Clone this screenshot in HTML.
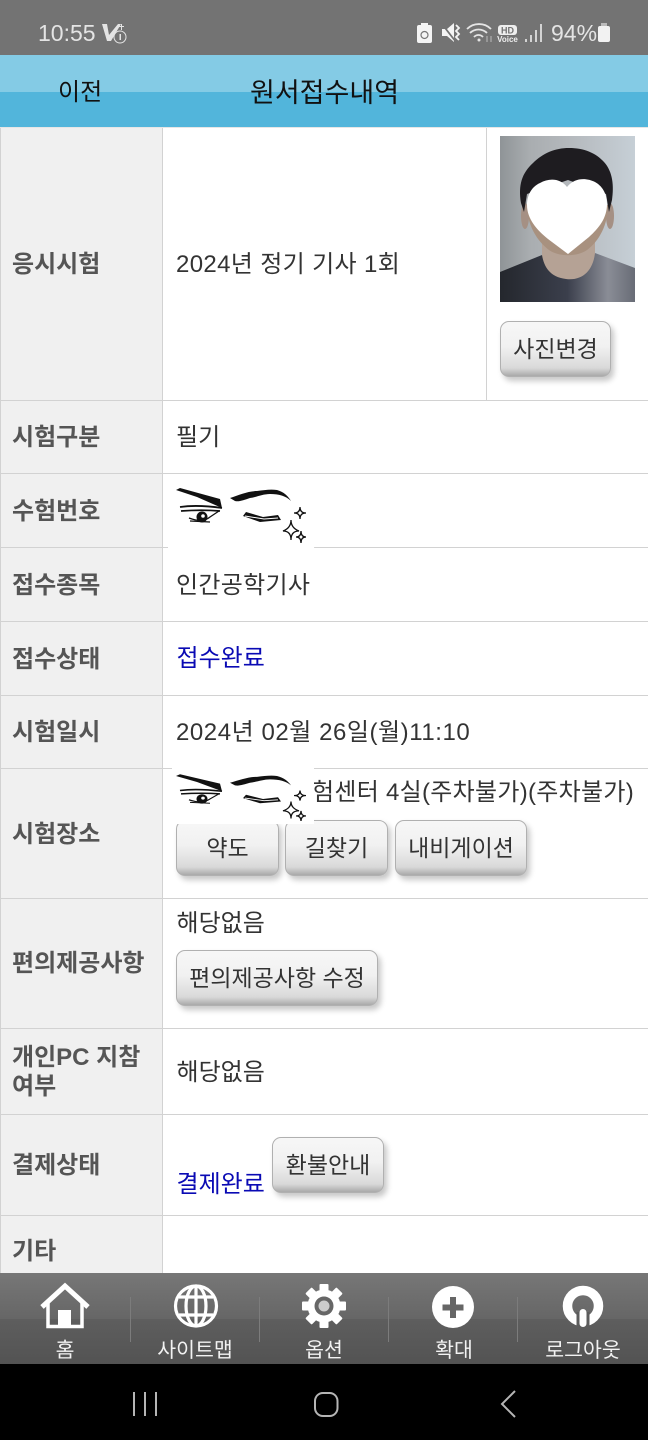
<!DOCTYPE html>
<html lang="ko"><head><meta charset="utf-8"><title>원서접수내역</title>
<style>
html,body{margin:0;padding:0;background:#fff}
#p{position:relative;width:648px;height:1440px;overflow:hidden;background:#fff;font-family:"Liberation Sans","Noto Sans CJK KR",sans-serif;font-size:24px;color:#333}
.a{position:absolute}
.t{position:absolute;line-height:30px;white-space:nowrap}
.l{position:absolute;left:12px;line-height:29px;font-weight:700;color:#555;white-space:nowrap}
.h{position:absolute;left:0;width:648px;height:1px;background:#d2d2d2}
.blue{color:#0a0ab4}
.b{position:absolute;box-sizing:border-box;height:56px;border:1px solid #b0b0b0;border-radius:9px;background:linear-gradient(#f7f7f7 0,#f1f1f1 45%,#d9d9d9 85%,#a9a9a9 100%);box-shadow:3px 4px 6px rgba(0,0,0,.22);text-align:center;font-size:23px;line-height:54px;color:#333;white-space:nowrap}
.f{position:absolute;top:1337px;width:130px;text-align:center;font-size:20.5px;line-height:28px;color:#f2f2f2;white-space:nowrap}
.s{position:absolute;top:1297px;width:1px;height:45px;background:#7c7c7c}
</style></head><body><div id="p">
<div class="a" style="left:0;top:0;width:648px;height:55px;background:#737373"></div>
<div class="t" style="left:38px;top:18px;color:#e4e4e4;font-size:23px">10:55</div>
<svg class="a" style="left:100px;top:20px" width="30" height="26" viewBox="0 0 30 26"><path d="M2 4h5l2 11 9-11h3l-10 17H7z" fill="#e4e4e4"/><circle cx="20" cy="17" r="6" fill="none" stroke="#e4e4e4" stroke-width="1"/><path d="M19.500 14h1.500v6h-1.500zM21 4h1v6h-1zM19 6h5v1h-5z" fill="#e4e4e4"/></svg>
<svg class="a" style="left:416px;top:20px" width="130" height="26" viewBox="0 0 130 26">
<rect x="1" y="5" width="15" height="18" rx="2" fill="#f4f4f4"/><rect x="5" y="3" width="7" height="3" fill="#f4f4f4"/><circle cx="8.500" cy="15" r="3.500" fill="none" stroke="#777" stroke-width="1.200"/>
<path d="M26 9h5l7-6v19l-7-6h-5z" fill="#f4f4f4"/><path d="M26 4l14 18" stroke="#737373" stroke-width="1.800"/><path d="M40 5l3 3-3 3 3 3-3 3 3 3" fill="none" stroke="#f4f4f4" stroke-width="1.800"/>
<path d="M51 9a17 17 0 0 1 24 0M54 13a12 12 0 0 1 17 0M58 17a6 6 0 0 1 9 0" fill="none" stroke="#e4e4e4" stroke-width="1.800"/><circle cx="63" cy="20" r="1.500" fill="#e4e4e4"/><path d="M71 16v6M75 22v-6" stroke="#bbb" stroke-width="1"/>
<rect x="82" y="5" width="19" height="10" rx="3" fill="#eee"/>
<text x="91.500" y="13.500" font-size="9" font-weight="700" text-anchor="middle" fill="#737373" font-family="Liberation Sans">HD</text>
<text x="91.500" y="22" font-size="8" font-weight="700" text-anchor="middle" fill="#eee" font-family="Liberation Sans">Voice</text>
<path d="M110 22v-3M115 22v-7M120 22v-12M125 22v-18" stroke="#e4e4e4" stroke-width="1.700"/>
</svg>
<div class="t" style="left:551px;top:18px;color:#e4e4e4;font-size:23px">94%</div>
<div class="a" style="left:598px;top:26px;width:12px;height:16px;background:#f2f2f2;border-radius:2px"></div>
<div class="a" style="left:601px;top:23px;width:6px;height:3px;background:#bbb"></div>

<div class="a" style="left:0;top:55px;width:648px;height:37px;background:#84cbe5"></div>
<div class="a" style="left:0;top:92px;width:648px;height:35px;background:#52b5db"></div>
<div class="t" style="left:58px;top:78px;color:#111">이전</div>
<div class="t" style="left:250px;top:78px;color:#111;font-size:27px">원서접수내역</div>

<div class="a" style="left:0;top:127px;width:162px;height:1146px;background:#f0f0f0"></div>
<div class="a" style="left:0;top:127px;width:1px;height:1146px;background:#d2d2d2"></div>
<div class="a" style="left:162px;top:127px;width:1px;height:1146px;background:#d2d2d2"></div>
<div class="a" style="left:486px;top:127px;width:1px;height:273px;background:#d2d2d2"></div>
<div class="h" style="top:127px;background:#e6e6e6"></div>
<div class="h" style="top:400px"></div><div class="h" style="top:473px"></div><div class="h" style="top:547px"></div><div class="h" style="top:621px"></div><div class="h" style="top:695px"></div><div class="h" style="top:768px"></div><div class="h" style="top:898px"></div><div class="h" style="top:1028px"></div><div class="h" style="top:1114px"></div><div class="h" style="top:1215px"></div>

<div class="l" style="top:250px">응시시험</div>
<div class="l" style="top:423px">시험구분</div>
<div class="l" style="top:497px">수험번호</div>
<div class="l" style="top:571px">접수종목</div>
<div class="l" style="top:645px">접수상태</div>
<div class="l" style="top:718px">시험일시</div>
<div class="l" style="top:820px">시험장소</div>
<div class="l" style="top:949px">편의제공사항</div>
<div class="l" style="top:1043px">개인PC 지참<br>여부</div>
<div class="l" style="top:1151px">결제상태</div>
<div class="l" style="top:1237px">기타</div>

<div class="t" style="left:176px;top:250px;letter-spacing:.35px">2024년 정기 기사 1회</div>
<div class="t" style="left:176px;top:423px">필기</div>
<div class="t" style="left:176px;top:571px;letter-spacing:.3px">인간공학기사</div>
<div class="t blue" style="left:176.500px;top:644px">접수완료</div>
<div class="t" style="left:176px;top:718px;letter-spacing:.55px">2024년 02월 26일(월)11:10</div>
<div class="t" style="left:312px;top:778px;letter-spacing:.28px">험센터 4실(주차불가)(주차불가)</div>
<div class="t" style="left:176.500px;top:909px">해당없음</div>
<div class="t" style="left:176.500px;top:1058px">해당없음</div>
<div class="t blue" style="left:176.500px;top:1170px">결제완료</div>

<svg class="a" style="left:500px;top:136px" width="135" height="166" viewBox="500 136 135 166">
<defs><linearGradient id="bg" x1="0" x2="1" y1="0" y2="0"><stop offset="0" stop-color="#8f9497"/><stop offset=".22" stop-color="#a9adb0"/><stop offset=".5" stop-color="#b4b8bc"/><stop offset="1" stop-color="#c6cfd6"/></linearGradient>
<linearGradient id="sh" x1="0" x2="1" y1="0" y2="0"><stop offset="0" stop-color="#24272d"/><stop offset=".5" stop-color="#3b3f4c"/><stop offset=".8" stop-color="#8a8d96"/><stop offset="1" stop-color="#686c76"/></linearGradient></defs>
<rect x="500" y="136" width="135" height="166" fill="url(#bg)"/>
<ellipse cx="525" cy="216" rx="4" ry="13" fill="#a59084"/><ellipse cx="610" cy="216" rx="4" ry="13" fill="#a59084"/>
<rect x="542" y="235" width="53" height="45" fill="#b5a295"/>
<path d="M527 205c0 20 10 36 22 45 10 7 28 7 38 0 12-9 21-25 21-45z" fill="#a8917f"/>
<path d="M521 203c-3-18 1-30 12-40 10-10 22-15 36-15 15 0 27 5 35 14 9 10 10 24 8 38l-3 12-3-18-38-14-41 14-3 18z" fill="#1e1c20"/>
<path d="M500 272l42-17c2 12 8 22 24 24 16 2 27-8 29-26l40 15v34H500z" fill="url(#sh)"/>
<path d="M567 187c8-10 20-9 28-5 9 5 12 14 12 22 0 14-8 24-18 33l-21 17-20-15c-11-9-21-20-21-34 0-9 4-18 13-22 9-5 20-5 27 4z" fill="#fff"/>
</svg>
<div class="b" style="left:500px;top:321px;width:111px">사진변경</div>

<svg class="a" style="left:168px;top:486px" width="150" height="63" viewBox="0 0 150 63"><path d="M0 2H150L146 63H0z" fill="#fff"/>
<path d="M8 4l4-2 40 11 2 9-25-11zM62 12c9-3 18-7 27-7 7-1 14-2 20-1 7 2 11 6 14 11-5-5-12-7-21-7-7 0-13 3-20 4-6 2-11 4-15 3z" fill="#111"/>
<path d="M12 21c14-2 28-1 42 1M13 25c14-1 27-1 39 0" fill="none" stroke="#111" stroke-width="1.800"/><path d="M21 32c8 3 15 4 21-1l9-6" fill="none" stroke="#111" stroke-width="1.300"/><path d="M22 35l20 1" stroke="#111" stroke-width="1.200"/><circle cx="34" cy="31" r="5.500" fill="#111"/><circle cx="35" cy="30" r="1.800" fill="#fff"/>
<path d="M75 30l3-4 17 5 15-2 3 5-21 2z" fill="#111"/><path d="M77 30l19 3 14-1" fill="none" stroke="#fff" stroke-width="1"/>
<path d="M132 21q0 6 6 6q-6 0-6 6q0-6-6-6q6 0 6-6zM123 34q0 8 8 11q-8 0-8 9q0-9-8-9q8-3 8-11zM133 45q0 6 5 6q-5 0-5 6q0-6-5-6q5 0 5-6z" fill="#fff" stroke="#111" stroke-width="1.300"/></svg>

<div class="b" style="left:176px;top:820px;width:103px">약도</div>
<div class="b" style="left:285px;top:820px;width:103px">길찾기</div>
<div class="b" style="left:395px;top:820px;width:132px">내비게이션</div>
<div class="b" style="left:176px;top:950px;width:202px">편의제공사항 수정</div>
<div class="b" style="left:272px;top:1137px;width:112px">환불안내</div>

<svg class="a" style="left:172px;top:766px" width="142" height="58" viewBox="0 0 142 58"><rect width="142" height="58" fill="#fff"/>
<g transform="translate(-4 6.600) scale(1 .85)"><path d="M8 4l4-2 40 11 2 9-25-11zM62 12c9-3 18-7 27-7 7-1 14-2 20-1 7 2 11 6 14 11-5-5-12-7-21-7-7 0-13 3-20 4-6 2-11 4-15 3z" fill="#111"/>
<path d="M12 21c14-2 28-1 42 1M13 25c14-1 27-1 39 0" fill="none" stroke="#111" stroke-width="1.800"/><path d="M21 32c8 3 15 4 21-1l9-6" fill="none" stroke="#111" stroke-width="1.300"/><path d="M22 35l20 1" stroke="#111" stroke-width="1.200"/><circle cx="34" cy="31" r="5.500" fill="#111"/><circle cx="35" cy="30" r="1.800" fill="#fff"/>
<path d="M75 30l3-4 17 5 15-2 3 5-21 2z" fill="#111"/><path d="M77 30l19 3 14-1" fill="none" stroke="#fff" stroke-width="1"/>
<path d="M132 21q0 6 6 6q-6 0-6 6q0-6-6-6q6 0 6-6zM123 34q0 8 8 11q-8 0-8 9q0-9-8-9q8-3 8-11zM133 45q0 6 5 6q-5 0-5 6q0-6-5-6q5 0 5-6z" fill="#fff" stroke="#111" stroke-width="1.300"/></g></svg>

<div class="a" style="left:0;top:1273px;width:648px;height:46px;background:linear-gradient(#777,#666)"></div>
<div class="a" style="left:0;top:1319px;width:648px;height:45px;background:linear-gradient(#5e5e5e,#535353)"></div>
<div class="s" style="left:130px"></div><div class="s" style="left:259px"></div><div class="s" style="left:388px"></div><div class="s" style="left:517px"></div>
<svg class="a" style="left:0;top:1273px" width="648" height="60" viewBox="0 1273 648 60" fill="#fff">
<path d="M42 1307l23-21 23 21" fill="none" stroke="#fff" stroke-width="5"/><path d="M48 1303v23.500h34V1303" fill="none" stroke="#fff" stroke-width="3.500"/><rect x="58" y="1310" width="13" height="17"/>
<g fill="none" stroke="#fff" stroke-width="3.200"><ellipse cx="196" cy="1306" rx="20.500" ry="20"/><ellipse cx="196" cy="1306" rx="10" ry="20"/><path d="M196 1286v40M179 1297h34M179 1315h34"/></g>
<g transform="translate(324 1306)"><circle r="16.500"/><rect x="-4.500" y="-22" width="9" height="44" rx="1"/><rect x="-4.500" y="-22" width="9" height="44" rx="1" transform="rotate(45)"/><rect x="-4.500" y="-22" width="9" height="44" rx="1" transform="rotate(90)"/><rect x="-4.500" y="-22" width="9" height="44" rx="1" transform="rotate(135)"/><circle r="9.500" fill="#666"/><circle r="5.500" fill="#ccc"/></g>
<circle cx="453" cy="1307" r="21"/><path d="M450 1297h6v7.500h7.500v6H456v7.500h-6v-7.500h-7.500v-6h7.500z" fill="#666"/>
<circle cx="583" cy="1306" r="15.500" fill="none" stroke="#fff" stroke-width="9.500"/><rect x="576.500" y="1312" width="13" height="17" fill="#5c5c5c"/><rect x="579.500" y="1309" width="7" height="18" rx="3.500"/>
</svg>
<div class="f" style="left:0">홈</div><div class="f" style="left:130px">사이트맵</div><div class="f" style="left:259px">옵션</div><div class="f" style="left:389px">확대</div><div class="f" style="left:518px">로그아웃</div>

<div class="a" style="left:0;top:1364px;width:648px;height:76px;background:#000"></div>
<svg class="a" style="left:0;top:1364px" width="648" height="76" viewBox="0 1364 648 76" fill="none" stroke="#b5b5b5" stroke-width="2"><path d="M134 1392v24M145 1392v24M156 1392v24"/><rect x="315" y="1393" width="22.500" height="23" rx="8"/><path d="M515 1391l-13 13 13 13"/></svg>
</div></body></html>
